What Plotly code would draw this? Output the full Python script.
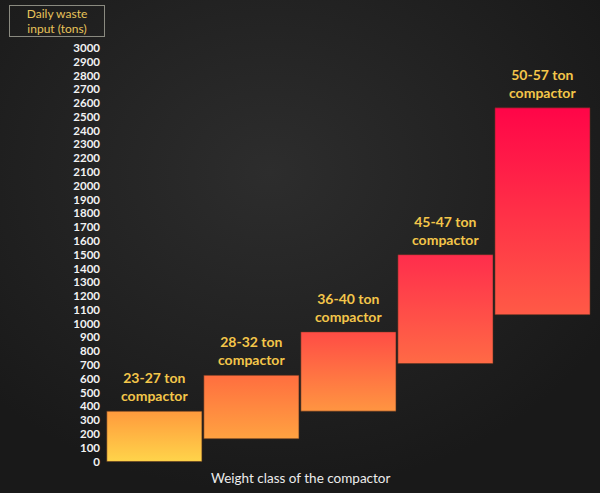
import base64
import plotly.graph_objects as go

# ---- data ----
categories = ["23-27 ton compactor", "28-32 ton compactor", "36-40 ton compactor",
              "45-47 ton compactor", "50-57 ton compactor"]
label_lines = ["23-27 ton<br>compactor", "28-32 ton<br>compactor", "36-40 ton<br>compactor",
               "45-47 ton<br>compactor", "50-57 ton<br>compactor"]
input_min = [0, 165, 365, 710, 1065]
input_max = [365, 625, 940, 1500, 2565]
bottom_colors = ["#ffd44a", "#ffa241", "#ff9541", "#ff6a45", "#ff5a46"]
top_colors = ["#ff9a3d", "#ff6e3f", "#ff4c45", "#ff2d4c", "#ff0548"]
y_tick_values = list(range(0, 3001, 100))

bar_width = 0.98

fig = go.Figure()
for i, cat in enumerate(categories):
    lo, hi = input_min[i], input_max[i]
    xl, xr = i - bar_width / 2, i + bar_width / 2
    fig.add_trace(go.Scatter(
        x=[xl, xr, xr, xl, xl],
        y=[lo, lo, hi, hi, lo],
        mode="lines",
        fill="toself",
        line=dict(color="rgba(90,50,30,0.55)", width=1),
        fillgradient=dict(type="vertical", start=lo, stop=hi,
                          colorscale=[[0, bottom_colors[i]], [1, top_colors[i]]]),
        name=cat,
        hoverinfo="name",
        showlegend=False,
    ))
    fig.add_annotation(
        x=i, y=hi, xref="x", yref="y", text=label_lines[i],
        showarrow=False, yanchor="bottom", yshift=5,
        font=dict(family="Lato", size=14, color="#f4c64a", weight="bold"),
        align="center",
    )

# background radial gradient
svg = ('<svg xmlns="http://www.w3.org/2000/svg" width="600" height="493">'
       '<defs><radialGradient id="g" cx="45%" cy="35%" r="65%">'
       '<stop offset="0%" stop-color="#2d2d2d"/><stop offset="100%" stop-color="#191919"/>'
       '</radialGradient></defs><rect width="600" height="493" fill="url(#g)"/></svg>')
uri = "data:image/svg+xml;base64," + base64.b64encode(svg.encode()).decode()

W, H = 600, 493
ml, mr, mt, mb = 101, 9, 41, 26
pw, ph = W - ml - mr, H - mt - mb

fig.add_layout_image(dict(
    source=uri, xref="paper", yref="paper",
    x=-ml / pw, y=1 + mt / ph, sizex=W / pw, sizey=H / ph,
    sizing="stretch", layer="below", xanchor="left", yanchor="top",
))

fig.add_annotation(
    xref="paper", yref="paper", x=(300 - ml) / pw, y=-(478 - (H - mb)) / ph,
    text="Weight class of the compactor", showarrow=False,
    xanchor="center", yanchor="middle",
    font=dict(family="Lato", size=13.5, color="#ececec"),
)
fig.add_annotation(
    xref="paper", yref="paper", x=(57 - ml) / pw, y=1 + (mt - 21) / ph,
    text="Daily waste<br>input (tons)", showarrow=False,
    xanchor="center", yanchor="middle", width=94, height=30,
    bordercolor="#8a8a80", borderwidth=1, borderpad=0,
    font=dict(family="Lato", size=12, color="#e8c45a"),
)

fig.update_layout(
    width=W, height=H,
    margin=dict(l=ml, r=mr, t=mt, b=mb),
    paper_bgcolor="#1d1d1d",
    plot_bgcolor="rgba(0,0,0,0)",
    showlegend=False,
    xaxis=dict(range=[-0.55, 4.5], showgrid=False, zeroline=False, showline=False,
               showticklabels=False, ticks="", fixedrange=True),
    yaxis=dict(range=[-40, 3050], tickvals=y_tick_values,
               ticktext=[str(v) for v in y_tick_values],
               showgrid=False, zeroline=False, showline=False, ticks="",
               tickfont=dict(family="Lato", size=11.5, color="#f2f2f2", weight="bold"),
               fixedrange=True),
)

fig.write_html("out.html", config={"displayModeBar": False},
               post_script="document.body.style.margin='0';document.body.style.background='#1d1d1d';")
